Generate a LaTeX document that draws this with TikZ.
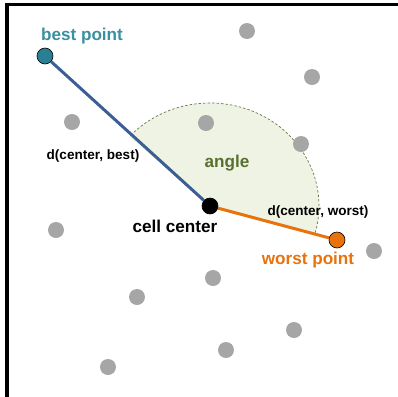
\documentclass[tikz,border=0pt]{standalone}
\usepackage{fontspec}
\setmainfont{Liberation Sans}
\usetikzlibrary{calc}
\definecolor{teal1}{HTML}{3A8FA0}
\definecolor{tealpt}{HTML}{2B7F94}
\definecolor{blueln}{HTML}{3A5F95}
\definecolor{orng}{HTML}{E8720C}
\definecolor{olive}{HTML}{5A7030}
\definecolor{grayp}{HTML}{A6A6A6}
\definecolor{sect}{HTML}{EEF3E3}
\definecolor{arcc}{HTML}{6B7A4A}
\begin{document}
\begin{tikzpicture}[x=1bp,y=1bp,
  gpt/.style={circle,fill=grayp,inner sep=0pt,minimum size=16bp},
  mainpt/.style={circle,draw=black,line width=0.6bp,inner sep=0pt,minimum size=16bp},
  bigtxt/.style={font=\fontsize{17.2}{20}\selectfont\bfseries,inner sep=0pt},
  smalltxt/.style={font=\fontsize{13.6}{16}\selectfont\bfseries,inner sep=0pt}]
\useasboundingbox (0,0) rectangle (398,-397);
% border
\draw[line width=3bp] (7,-397) -- (7,-4) -- (398,-4);
% sector
\coordinate (c) at (210,-206);
\coordinate (arcstart) at ($(c)+({109*cos(-15)},{103*sin(-15)})$);
\fill[sect] (c) -- (arcstart) arc[start angle=-15,end angle=137.7,x radius=109,y radius=103] -- cycle;
\draw[arcc,dashed,dash pattern=on 2.5bp off 2bp,line width=0.7bp] (arcstart) arc[start angle=-15,end angle=137.7,x radius=109,y radius=103];
% gray points
\node[gpt] (g1) at (247,-31) {};
\node[gpt] (g2) at (312,-77) {};
\node[gpt] (g3) at (206,-123) {};
\node[gpt] (g4) at (301,-144) {};
\node[gpt] (g5) at (72,-122) {};
\node[gpt] (g6) at (56,-230) {};
\node[gpt] (g7) at (137,-297) {};
\node[gpt] (g8) at (108,-367) {};
\node[gpt] (g9) at (213,-278) {};
\node[gpt] (g10) at (374,-251) {};
\node[gpt] (g11) at (294,-330) {};
\node[gpt] (g12) at (226,-350) {};
% main points
\node[mainpt,fill=black] (center) at (210,-206) {};
\node[mainpt,fill=tealpt] (best) at (45,-56) {};
\node[mainpt,fill=orng] (worst) at (337,-240) {};
\draw[blueln,line width=3bp] (center) -- (best);
\draw[orng,line width=3bp] (center) -- (worst);
% labels
\node[bigtxt,text=teal1] (lbest) at (82,-36) {best point};
\node[bigtxt,text=black] (lcenter) at (175,-226) {cell center};
\node[bigtxt,text=orng] (lworst) at (308,-260) {worst point};
\node[bigtxt,text=olive] (langle) at (227,-163) {angle};
\node[smalltxt] (dbest) at (93,-156) {d(center, best)};
\node[smalltxt] (dworst) at (318,-212) {d(center, worst)};
\end{tikzpicture}
\end{document}
